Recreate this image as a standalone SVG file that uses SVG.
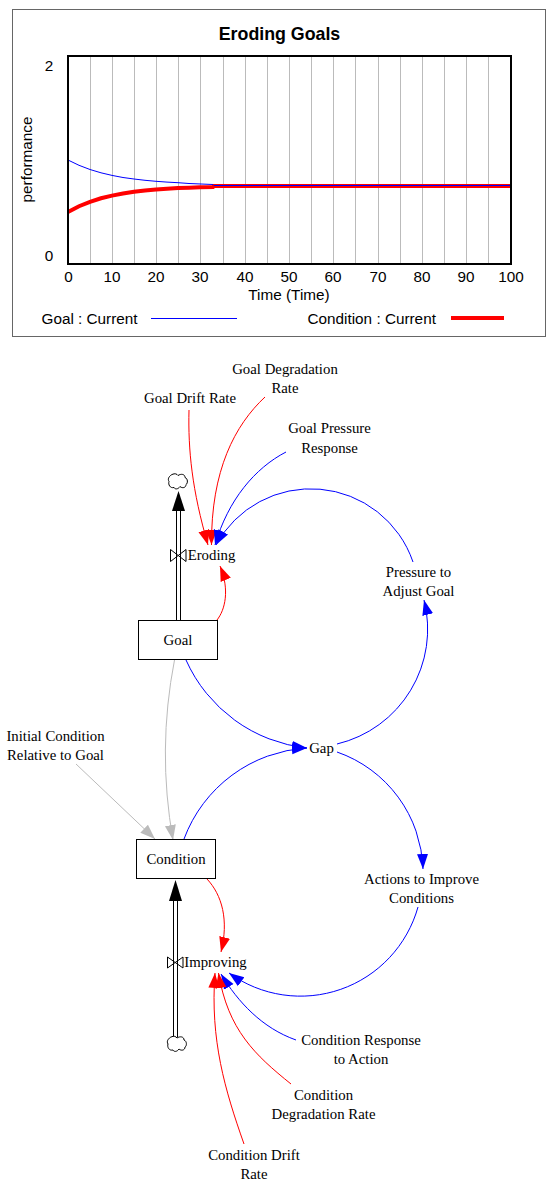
<svg xmlns="http://www.w3.org/2000/svg" width="557" height="1188" viewBox="0 0 557 1188">
<style>
text{fill:#000}
.c{font-family:"Liberation Sans",Arial,sans-serif;font-size:15.3px}
.m{text-anchor:middle}
.t{font-family:"Liberation Sans",Arial,sans-serif;font-size:17.8px;font-weight:bold;text-anchor:middle}
.n{font-family:"Liberation Serif","Times New Roman",serif;font-size:14.8px;text-anchor:middle}
.g{stroke:#bbb;stroke-width:1;fill:none}
.w{fill:none;stroke-width:1}
.red{stroke:#f00}.blue{stroke:#00f}.gray{stroke:#bbb}
.box{fill:#fff;stroke:#000;stroke-width:1}
.pipe{stroke:#000;stroke-width:1;fill:none}
.cl{fill:#fff;stroke:#000;stroke-width:1}
.v{fill:none;stroke:#000;stroke-width:1}
</style>
<defs>
<marker id="ar" markerUnits="userSpaceOnUse" markerWidth="17" markerHeight="14" refX="15" refY="6" orient="auto"><path d="M0,0.5L15,6L0,11.5Z" fill="#f00"/></marker>
<marker id="ab" markerUnits="userSpaceOnUse" markerWidth="17" markerHeight="14" refX="15" refY="6" orient="auto"><path d="M0,0.5L15,6L0,11.5Z" fill="#00f"/></marker>
<marker id="ag" markerUnits="userSpaceOnUse" markerWidth="17" markerHeight="14" refX="15" refY="6" orient="auto"><path d="M0,0.5L15,6L0,11.5Z" fill="#bbb"/></marker>
<path id="cloud" d="M-6,-7C-3,-8.500-1,-7.500 0,-6C3,-8 7,-7.500 7,-4C10,-3 10,2 8,3C8,6.500 4,7 2,5C0,8-3,8-4,6C-8,7-10,3-9,0C-11,-3-8,-6-6,-7Z"/>
</defs>
<rect width="557" height="1188" fill="#fff"/>
<g id="chart">
<rect x="12.500" y="9.500" width="533" height="327" fill="#fff" stroke="#666"/>
<text class="t" x="279.500" y="40">Eroding Goals</text>
<path class="g" d="M90.500,56V264M112.500,56V264M134.500,56V264M156.500,56V264M178.500,56V264M200.500,56V264M223.500,56V264M245.500,56V264M267.500,56V264M289.500,56V264M311.500,56V264M333.500,56V264M355.500,56V264M378.500,56V264M400.500,56V264M422.500,56V264M444.500,56V264M466.500,56V264M488.500,56V264"/>
<polyline fill="none" stroke="#f00" stroke-width="4" points="68,212 79,206.200 90,201.800 101,198.300 112,195.600 123,193.500 134,191.800 145,190.500 156,189.500 167,188.700 178,188.100 189,187.700 200,187.300 213,187 214,186 511,186"/>
<polyline fill="none" stroke="#00f" stroke-width="1" points="68,160 79,165.300 90,169.500 101,172.800 112,175.400 123,177.500 134,179 145,180.300 156,181.300 167,182.100 178,182.700 189,183.500 213,184.500 214,185.500 511,185.500"/>
<rect x="68" y="56" width="443" height="208" fill="none" stroke="#000" stroke-width="2"/>
<text class="c m" x="49" y="71">2</text>
<text class="c m" x="49" y="261">0</text>
<text class="c m" transform="translate(31.500 159.500) rotate(-90)">performance</text>
<text class="c m" x="68.500" y="281.500">0</text>
<text class="c m" x="112" y="281.500">10</text>
<text class="c m" x="156" y="281.500">20</text>
<text class="c m" x="200" y="281.500">30</text>
<text class="c m" x="245" y="281.500">40</text>
<text class="c m" x="289" y="281.500">50</text>
<text class="c m" x="333" y="281.500">60</text>
<text class="c m" x="378" y="281.500">70</text>
<text class="c m" x="422" y="281.500">80</text>
<text class="c m" x="466" y="281.500">90</text>
<text class="c m" x="511" y="281.500">100</text>
<text class="c m" x="289" y="300">Time (Time)</text>
<text class="c" x="41.500" y="323.500">Goal : Current</text>
<line x1="151" y1="318.500" x2="237" y2="318.500" stroke="#00f"/>
<text class="c" x="307.500" y="323.500">Condition : Current</text>
<line x1="451" y1="318" x2="504" y2="318" stroke="#f00" stroke-width="4"/>
</g>
<g id="connectors">
<path class="w red" marker-end="url(#ar)" d="M189,410C188,450 192,490 208,545"/>
<path class="w red" marker-end="url(#ar)" d="M265,397C235,425 211,470 211.500,545"/>
<path class="w blue" marker-end="url(#ab)" d="M286,452C255,468 228,500 215,545"/>
<path class="w blue" marker-end="url(#ab)" d="M413,562A108,108 0 0 0 216,545"/>
<path class="w red" marker-end="url(#ar)" d="M217,620C225,610 230,590 220,566"/>
<path class="w blue" marker-end="url(#ab)" d="M186,660A150,150 0 0 0 307,748"/>
<path class="w blue" marker-end="url(#ab)" d="M184,839A140,140 0 0 1 307,748"/>
<path class="w gray" marker-end="url(#ag)" d="M174.500,660Q157,750 173,840"/>
<path class="w gray" marker-end="url(#ag)" d="M76,764L155,839"/>
<path class="w blue" marker-end="url(#ab)" d="M337,744A118,118 0 0 0 424,600"/>
<path class="w blue" marker-end="url(#ab)" d="M337,752A128,128 0 0 1 423,869"/>
<path class="w blue" marker-end="url(#ab)" d="M418,907A122,122 0 0 1 229,973"/>
<path class="w red" marker-end="url(#ar)" d="M207,879C222,895 229,920 221,952"/>
<path class="w blue" marker-end="url(#ab)" d="M296,1040C262,1028 238,1002 221,974"/>
<path class="w red" marker-end="url(#ar)" d="M291,1084C255,1055 228,1030 218.500,973"/>
<path class="w red" marker-end="url(#ar)" d="M244,1144C225,1090 210,1040 215,973"/>
</g>
<g id="flow-eroding">
<path class="pipe" d="M176.500,620V510M180.500,620V510"/>
<polygon points="178.500,491 172,511 185,511" fill="#000"/>
<use href="#cloud" x="178" y="481.500" class="cl"/>
<path class="v" d="M170.500,549.500L186,561.500V549.500L170.500,561.500Z"/>
</g>
<g id="flow-improving">
<path class="pipe" d="M173.500,1037V900M177.500,1037V900"/>
<polygon points="175.500,880 169,901 182,901" fill="#000"/>
<use href="#cloud" x="177" y="1044" class="cl"/>
<path class="v" d="M167.500,957L183,968V957L167.500,968Z"/>
</g>
<g id="goal"><rect class="box" x="138.500" y="620.500" width="79" height="39"/><text class="n" x="178" y="645">Goal</text></g>
<g id="condition"><rect class="box" x="136.500" y="839.500" width="79" height="39"/><text class="n" x="176" y="864">Condition</text></g>
<g id="eroding"><text class="n" x="211.500" y="560">Eroding</text></g>
<g id="improving"><text class="n" x="215.500" y="967">Improving</text></g>
<g id="gap"><text class="n" x="321.500" y="753">Gap</text></g>
<g id="goal-degradation-rate"><text class="n" x="285" y="374">Goal Degradation</text><text class="n" x="285" y="393">Rate</text></g>
<g id="goal-drift-rate"><text class="n" x="190" y="403">Goal Drift Rate</text></g>
<g id="goal-pressure-response"><text class="n" x="329.500" y="433">Goal Pressure</text><text class="n" x="329.500" y="452.500">Response</text></g>
<g id="pressure-to-adjust-goal"><text class="n" x="418.500" y="576.500">Pressure to</text><text class="n" x="418.500" y="595.500">Adjust Goal</text></g>
<g id="initial-condition"><text class="n" x="55.500" y="741">Initial Condition</text><text class="n" x="55.500" y="760">Relative to Goal</text></g>
<g id="actions"><text class="n" x="421.500" y="884">Actions to Improve</text><text class="n" x="421.500" y="903">Conditions</text></g>
<g id="condition-response"><text class="n" x="361" y="1045">Condition Response</text><text class="n" x="361" y="1064">to Action</text></g>
<g id="condition-degradation"><text class="n" x="323.500" y="1100">Condition</text><text class="n" x="323.500" y="1119">Degradation Rate</text></g>
<g id="condition-drift"><text class="n" x="254" y="1160">Condition Drift</text><text class="n" x="254" y="1179">Rate</text></g>
</svg>
